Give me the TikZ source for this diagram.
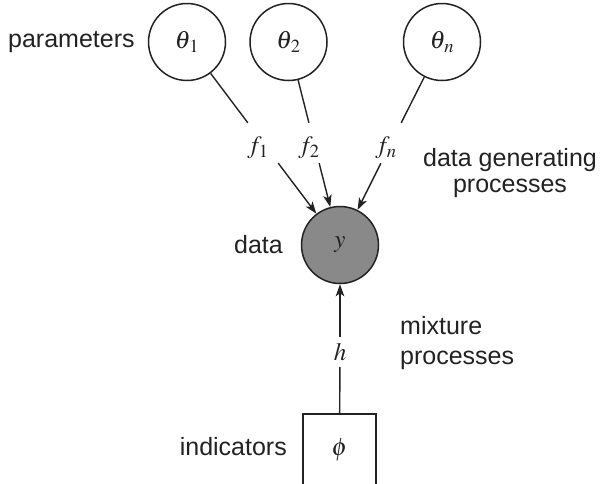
\documentclass[tikz,border=0pt]{standalone}
\usepackage{mathptmx}
\usepackage{fontspec}
\setmainfont{Liberation Sans}
\usetikzlibrary{arrows.meta}
\definecolor{ink}{HTML}{222222}
\definecolor{datagray}{HTML}{898989}
\newcommand{\offlbl}[1]{\raisebox{-5pt}[\height][\depth]{\hspace*{-10pt}#1}}
\begin{document}
\begin{tikzpicture}[x=1pt,y=-1pt,
  every node/.style={font=\fontsize{25}{30}\selectfont, text=ink},
  param/.style={circle, draw=ink, line width=1.5pt, minimum size=77pt, inner sep=0pt},
  obs/.style={param, fill=datagray},
  ind/.style={rectangle, draw=ink, line width=1.5pt, minimum width=73pt, minimum height=72pt, inner sep=0pt},
  lab/.style={inner sep=0pt, minimum width=30pt, minimum height=40pt},
  hlab/.style={inner sep=0pt, minimum width=20pt, minimum height=30pt},
  conn/.style={draw=ink, line width=1.4pt},
  arr/.style={conn, -{Stealth[length=12pt,width=8.5pt,inset=3pt]}},
  word/.style={inner sep=0pt}
]
\clip (0,0) rectangle (603,483);
\node[param] (t1) at (187,42) {$\theta_{\kern1.5pt 1}$};
\node[param] (t2) at (288.5,42) {$\theta_{\kern1.5pt 2}$};
\node[param] (tn) at (442,42) {$\theta_{\kern1.5pt n}$};
\node[obs] (y) at (340,245) {$y$};
\node[ind, anchor=north] (phi) at (339.5,413) {$\phi$};

\node[lab] (f1) at (263,143) {\offlbl{$f_1$}};
\node[lab] (f2) at (314,143) {\offlbl{$f_2$}};
\node[lab] (fn) at (391,143) {\offlbl{$f_n$}};
\node[hlab] (h) at (340,352) {$h$};

\draw[conn] (t1) -- (f1);
\draw[arr] (f1) -- (y);
\draw[conn] (t2) -- (f2);
\draw[arr] (f2) -- (y);
\draw[conn] (tn) -- (fn);
\draw[arr] (fn) -- (y);
\draw[conn] (phi) -- (h);
\draw[arr] (h) -- (y);

\node[word, anchor=base west] (lparam) at (8,47) {parameters};
\node[word, anchor=base east] (ldata) at (283,253) {data};
\node[word, anchor=base east] (lind) at (287,455) {indicators};
\node[word, align=center, font=\fontsize{25}{26}\selectfont] (ldgp) at (510,173.5) {data generating\\processes};
\node[word, align=left, anchor=west, font=\fontsize{25}{30}\selectfont] (lmix) at (400,343.5) {mixture\\processes};
\end{tikzpicture}
\end{document}
